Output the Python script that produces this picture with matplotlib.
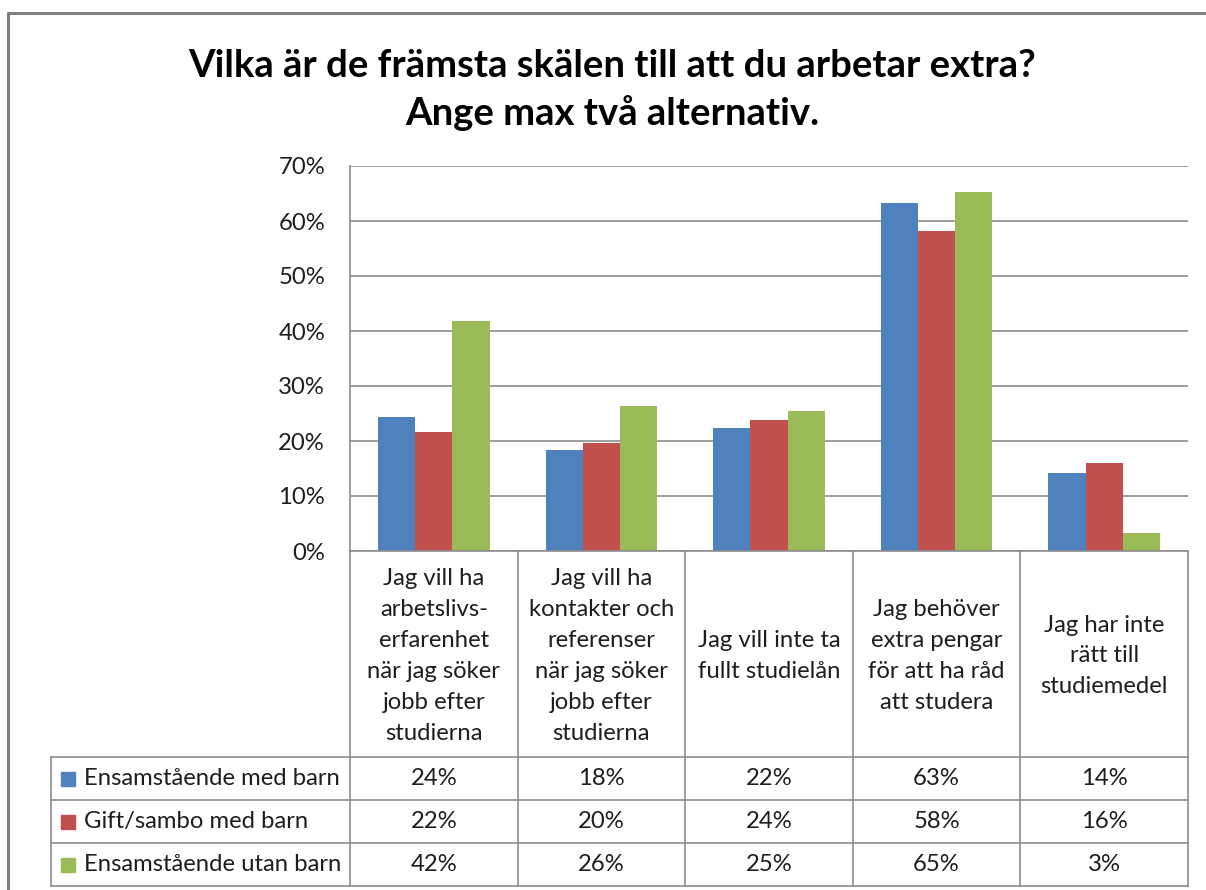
import matplotlib
matplotlib.use("Agg")
import matplotlib.pyplot as plt
import numpy as np

categories = [
    "Jag vill ha\narbetslivs-\nerfarenhet\nnär jag söker\njobb efter\nstudierna",
    "Jag vill ha\nkontakter och\nreferenser\nnär jag söker\njobb efter\nstudierna",
    "Jag vill inte ta\nfullt studielån",
    "Jag behöver\nextra pengar\nför att ha råd\natt studera",
    "Jag har inte\nrätt till\nstudiemedel",
]
series_names = ["Ensamstående med barn", "Gift/sambo med barn", "Ensamstående utan barn"]
ensam_med_barn = [24.4, 18.4, 22.4, 63.3, 14.1]
gift_med_barn = [21.6, 19.7, 23.8, 58.1, 16.0]
ensam_utan_barn = [41.8, 26.3, 25.4, 65.2, 3.2]
colors = ["#4F81BD", "#C0504D", "#9BBB59"]
yticks = [0, 10, 20, 30, 40, 50, 60, 70]
title = "Vilka är de främsta skälen till att du arbetar extra?\nAnge max två alternativ."

FONT = "Lato"
FS = 17.2
W, H = 1206, 890
fig = plt.figure(figsize=(W / 100, H / 100), dpi=100)

# layout in pixels
pl, pr, pt, pb = 350, 1188, 166, 551
tab_left = 51
row_edges = [757, 800, 843, 886]
grid_c = "#8C8C8C"
text_c = "#1E1E1E"

ax = fig.add_axes([pl / W, 1 - pb / H, (pr - pl) / W, (pb - pt) / H])
series = [ensam_med_barn, gift_med_barn, ensam_utan_barn]
n = len(categories)
x = np.arange(n)
bw = 1 / 4.5
for i, (vals, c) in enumerate(zip(series, colors)):
    ax.bar(x + (i - 1) * bw, vals, width=bw, color=c, edgecolor="none", zorder=3)
ax.set_xlim(-0.5, n - 0.5)
ax.set_ylim(0, 70)
ax.set_yticks(yticks)
ax.set_yticklabels([f"{v}%" for v in yticks], fontsize=FS, family=FONT, color=text_c)
ax.yaxis.grid(True, color=grid_c, linewidth=1.2, zorder=0)
ax.set_xticks([])
ax.tick_params(axis="y", length=0, pad=18)
for s in ["top", "right", "bottom"]:
    ax.spines[s].set_visible(False)
ax.spines["left"].set_color(grid_c)
ax.spines["left"].set_linewidth(1.2)

# overlay in pixel coordinates
ov = fig.add_axes([0, 0, 1, 1], zorder=5)
ov.set_xlim(0, W)
ov.set_ylim(H, 0)
ov.axis("off")
ov.patch.set_alpha(0)

# outer chart border
ov.plot([8, 8, W + 10], [H + 10, 13, 13], color="#7F7F7F", lw=2.2, solid_capstyle="butt")

# title
ov.text(612, 90, title, ha="center", va="center", fontsize=27.5, fontweight="bold",
        family=FONT, color="black", linespacing=1.38)

# table lines
col_edges = [pl + (pr - pl) * k / n for k in range(n + 1)]
lw = 1.2
for xe in col_edges:
    ov.plot([xe, xe], [pb, row_edges[-1]], color=grid_c, lw=lw)
ov.plot([pl, pr], [pb, pb], color=grid_c, lw=lw)
for ye in row_edges:
    ov.plot([tab_left, pr], [ye, ye], color=grid_c, lw=lw)
ov.plot([tab_left, tab_left], [row_edges[0], row_edges[-1]], color=grid_c, lw=lw)

# category labels
for k, cat in enumerate(categories):
    cx = (col_edges[k] + col_edges[k + 1]) / 2
    ov.text(cx, (pb + row_edges[0]) / 2 + 2, cat, ha="center", va="center", fontsize=FS,
            family=FONT, color=text_c, linespacing=1.58)

# rows
for r, (name, vals, c) in enumerate(zip(series_names, series, colors)):
    yc = (row_edges[r] + row_edges[r + 1]) / 2
    ov.add_patch(plt.Rectangle((61, yc - 7), 14, 14, color=c))
    ov.text(84, yc, name, ha="left", va="center", fontsize=FS, family=FONT, color=text_c)
    for k, v in enumerate(vals):
        cx = (col_edges[k] + col_edges[k + 1]) / 2
        ov.text(cx, yc, f"{round(v):d}%", ha="center", va="center", fontsize=FS,
                family=FONT, color=text_c)

fig.savefig("out.png", dpi=100)
